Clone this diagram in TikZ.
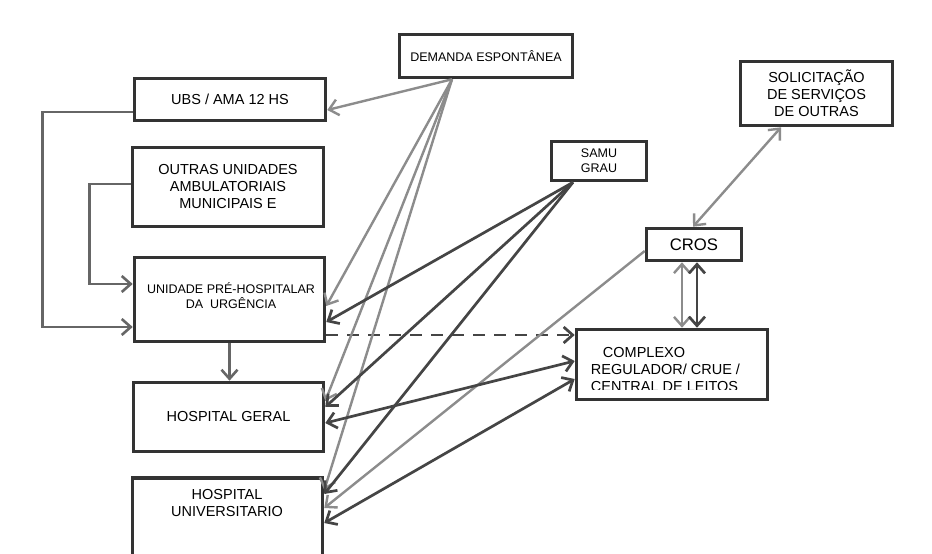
\documentclass[tikz,border=0pt]{standalone}
\usepackage{fontspec}
\setmainfont{Liberation Sans}
\usetikzlibrary{arrows.meta,calc}

\definecolor{boxline}{HTML}{333333}
\definecolor{lightline}{HTML}{8C8C8C}
\definecolor{midline}{HTML}{666666}
\definecolor{darkline}{HTML}{454545}

\begin{document}
\begin{tikzpicture}[ x=1pt, y=-1pt,
  bigtext/.style={font=\fontsize{14.5}{17}\selectfont, align=center},
  smalltext/.style={font=\fontsize{12.5}{15}\selectfont, align=center},
  box/.style={draw=boxline, line width=3.6pt, shape=rectangle, inner sep=0pt, bigtext},
  tip/.style={-{Straight Barb[length=9pt,width=16pt]}},
  both/.style={{Straight Barb[length=9pt,width=16pt]}-{Straight Barb[length=9pt,width=16pt]}},
  demline/.style={tip, draw=lightline, line width=2.4pt},
  samuline/.style={tip, draw=darkline, line width=2.7pt},
  elbow/.style={tip, draw=midline, line width=2.6pt},
]
\clip (0,0) rectangle (932,554);
\fill[white] (0,0) rectangle (932,554);

\node[box, minimum width=173pt, minimum height=43pt, smalltext] (dem) at (486,56) {DEMANDA ESPONTÂNEA};
\node[box, minimum width=191pt, minimum height=42pt] (ubs) at (230,99.5) {UBS / AMA 12 HS};
\node[box, minimum width=191pt, minimum height=79pt] (outras) at (228,187) {OUTRAS UNIDADES\\AMBULATORIAIS\\MUNICIPAIS E};
\node[box, minimum width=190pt, minimum height=84pt] (uph) at (229.5,299.5) {};
\node[smalltext] (uphtext) at (231,296) {UNIDADE PRÉ-HOSPITALAR\\DA~~URGÊNCIA};
\node[box, minimum width=190pt, minimum height=69pt] (hg) at (228.5,417) {HOSPITAL GERAL};
\node[box, minimum width=190pt, minimum height=120pt] (hu) at (227.5,538) {};
\node[bigtext] (hutext) at (227,503) {HOSPITAL\\UNIVERSITARIO};

\node[box, minimum width=95pt, minimum height=39pt, smalltext] (samu) at (599,161) {SAMU\\GRAU};
\node[box, minimum width=152pt, minimum height=64pt] (sol) at (816.5,93.5) {SOLICITAÇÃO\\DE SERVIÇOS\\DE OUTRAS};
\node[box, minimum width=95pt, minimum height=32pt, font=\fontsize{16.7}{20}\selectfont] (cros) at (694,244.5) {CROS};
\node[box, minimum width=191pt, minimum height=70pt] (creg) at (672,364.5) {};
\begin{scope}
\clip (575,330) rectangle (769,389);
\node[bigtext, align=left] (cregtext) at (665.5,370) {\hspace*{12pt}COMPLEXO\\REGULADOR/ CRUE /\\CENTRAL DE LEITOS};
\end{scope}

\coordinate (demsrc) at ([xshift=-34pt]dem.south);
\coordinate (samusrc) at ([xshift=-26pt]samu.south);
\coordinate (dashstart) at ([yshift=-35.5pt]uph.east);

\draw[elbow] ([yshift=-12.5pt]ubs.west) -- ++(-90,0) |- ([yshift=-27.5pt]uph.west);
\draw[elbow] ([yshift=3pt]outras.west) -- ++(-41,0) |- ([yshift=15.5pt]uph.west);
\draw[elbow] (uph.south) -- (uph.south |- hg.north);
\draw[tip, draw=darkline, line width=2.7pt, dash pattern=on 12pt off 9pt] (dashstart) -- (dashstart -| creg.west);

\draw[demline] (demsrc) -- ([yshift=-10.5pt]ubs.east);
\draw[demline] (demsrc) -- ([yshift=-6.5pt]uph.east);
\draw[demline] (demsrc) -- ([yshift=16pt]hg.east);
\draw[demline] (demsrc) -- ([yshift=48pt]hu.east);

\draw[samuline] (samusrc) -- ([yshift=-22.5pt]uph.east);
\draw[samuline] (samusrc) -- ([yshift=10pt]hg.east);
\draw[samuline] (samusrc) -- ([yshift=44pt]hu.east);

\draw[demline] ([yshift=-6.5pt]cros.west) -- ([yshift=30pt]hu.east);

\draw[both, draw=darkline, line width=2.7pt] ([yshift=-6pt]hg.east) -- ([yshift=3.5pt]creg.west);
\draw[both, draw=darkline, line width=2.7pt] ([yshift=15pt]hu.east) -- ([yshift=-14.5pt]creg.west);

\draw[both, draw=lightline, line width=2.4pt] ($(cros.south)+(-12,0)$) -- ($(cros.south |- creg.north)+(-12,0)$);
\draw[both, draw=darkline, line width=2.7pt] ($(cros.south)+(3,0)$) -- ($(cros.south |- creg.north)+(3,0)$);
\draw[both, draw=lightline, line width=2.4pt] ([xshift=-35.5pt]sol.south) -- ([xshift=-1pt]cros.north);

\end{tikzpicture}
\end{document}
